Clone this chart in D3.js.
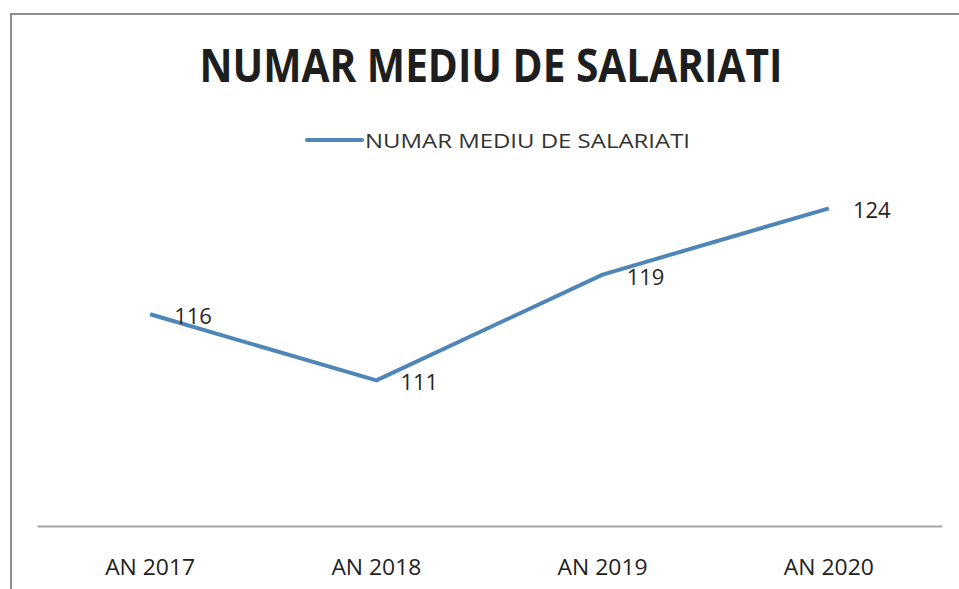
<!DOCTYPE html>
<html>
<head>
<meta charset="utf-8">
<script src="https://cdn.jsdelivr.net/npm/d3@7"></script>
<style>
  html, body { margin: 0; padding: 0; background: #fff; }
  svg { display: block; }
</style>
</head>
<body>
<svg id="chart" width="959" height="589"></svg>
<script>
// data
var years = ["AN 2017", "AN 2018", "AN 2019", "AN 2020"];
var salariati = [116, 111, 119, 124];
var seriesName = "NUMAR MEDIU DE SALARIATI";
var chartTitle = "NUMAR MEDIU DE SALARIATI";
var yDomain = [100, 130];

var svg = d3.select("#chart");

// outer frame (scanned page, right and bottom edges cut off)
svg.append("rect")
    .attr("x", 11).attr("y", 14)
    .attr("width", 980).attr("height", 620)
    .attr("fill", "#fff")
    .attr("stroke", "#8c8c8c")
    .attr("stroke-width", 2);

var x = d3.scaleBand().domain(years).range([37, 942]);
var y = d3.scaleLinear().domain(yDomain).range([526, 129]);

// title
svg.append("text")
    .attr("x", 491).attr("y", 82)
    .attr("text-anchor", "middle")
    .attr("font-family", "'Open Sans', sans-serif")
    .attr("font-weight", "bold")
    .attr("font-size", 47)
    .attr("textLength", 583)
    .attr("lengthAdjust", "spacingAndGlyphs")
    .attr("fill", "#1e1e1e")
    .text(chartTitle);

// legend
var legend = svg.append("g");
legend.append("line")
    .attr("x1", 307).attr("x2", 362)
    .attr("y1", 140).attr("y2", 140)
    .attr("stroke", "#4f86b8")
    .attr("stroke-width", 4)
    .attr("stroke-linecap", "round");
legend.append("text")
    .attr("x", 365).attr("y", 148)
    .attr("font-family", "'Open Sans', sans-serif")
    .attr("font-size", 20)
    .attr("textLength", 325)
    .attr("lengthAdjust", "spacingAndGlyphs")
    .attr("fill", "#333")
    .text(seriesName);

// x axis
var xAxis = svg.append("g")
    .attr("transform", "translate(0,526)")
    .call(d3.axisBottom(x).tickSize(0).tickPadding(0));
xAxis.select(".domain")
    .attr("stroke", "#a6a6a6")
    .attr("stroke-width", 2);
xAxis.selectAll(".tick text")
    .attr("y", 49)
    .attr("dy", 0)
    .attr("font-family", "'Open Sans', sans-serif")
    .attr("font-size", 22)
    .attr("textLength", 90)
    .attr("lengthAdjust", "spacingAndGlyphs")
    .attr("fill", "#222");

// line
var data = years.map(function(d, i) { return {an: d, v: salariati[i]}; });
var line = d3.line()
    .x(function(d) { return x(d.an) + x.bandwidth() / 2; })
    .y(function(d) { return y(d.v); });

svg.append("path")
    .datum(data)
    .attr("fill", "none")
    .attr("stroke", "#4f86b8")
    .attr("stroke-width", 4)
    .attr("stroke-linejoin", "round")
    .attr("d", line);

// data labels
svg.selectAll(".lbl")
    .data(data)
    .enter().append("text")
    .attr("class", "lbl")
    .attr("x", function(d) { return x(d.an) + x.bandwidth() / 2 + 24; })
    .attr("y", function(d) { return y(d.v) + 10; })
    .attr("font-family", "'Open Sans', sans-serif")
    .attr("font-size", 22)
    .attr("fill", "#262626")
    .text(function(d) { return d.v; });
</script>
</body>
</html>
